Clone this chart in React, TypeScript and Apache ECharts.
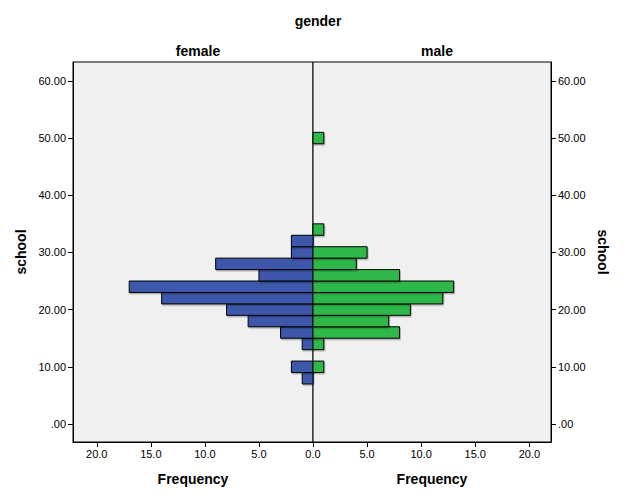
import React, { useEffect, useRef } from 'react';
import * as echarts from 'echarts';

// school bin centres (bin width 2) and frequencies per gender
const femaleSchool = [8, 10, 14, 16, 18, 20, 22, 24, 26, 28, 30, 32];
const femaleFreq = [1, 2, 1, 3, 6, 8, 14, 17, 5, 9, 2, 2];
const maleSchool = [10, 14, 16, 18, 20, 22, 24, 26, 28, 30, 34, 50];
const maleFreq = [1, 1, 8, 7, 9, 12, 13, 8, 4, 5, 1, 1];

const schoolTicks = [0, 10, 20, 30, 40, 50, 60];
const binWidth = 2;

const FONT = "'Liberation Sans', Arial, sans-serif";

const App: React.FC = () => {
  const chartRef = useRef<HTMLDivElement>(null);

  useEffect(() => {
    if (!chartRef.current) return;
    const chart = echarts.init(chartRef.current, undefined, { renderer: 'svg' });

    const barItem = (fill: string) => (params: any, api: any) => {
      const n = api.value(0);
      const y = api.value(1);
      const a = api.coord([0, y + binWidth / 2]);
      const b = api.coord([n, y - binWidth / 2]);
      return {
        type: 'rect',
        shape: {
          x: Math.min(a[0], b[0]),
          y: a[1],
          width: Math.abs(b[0] - a[0]),
          height: b[1] - a[1],
        },
        style: {
          fill,
          stroke: '#000',
          lineWidth: 1,
          shadowColor: 'rgba(0,0,0,0.25)',
          shadowOffsetX: 1,
          shadowOffsetY: 1.5,
          shadowBlur: 1,
        },
      };
    };

    const xCommon = {
      type: 'value' as const,
      interval: 5,
      axisLine: { show: true, onZero: false, lineStyle: { color: '#000' } },
      axisTick: { show: true, length: 5, lineStyle: { color: '#000' } },
      axisLabel: {
        color: '#000',
        fontSize: 11,
        fontFamily: FONT,
        margin: 6,
        showMaxLabel: false,
        formatter: (v: number) => v.toFixed(1),
      },
      splitLine: { show: false },
      name: 'Frequency',
      nameLocation: 'middle' as const,
      nameGap: 30,
      nameTextStyle: { color: '#000', fontSize: 14, fontWeight: 'bold' as const, fontFamily: FONT },
    };

    const yCommon = {
      type: 'value' as const,
      min: -3.15,
      max: 63.3,
      axisLine: { show: true, onZero: false, lineStyle: { color: '#000' } },
      axisTick: { show: true, length: 5, customValues: schoolTicks, lineStyle: { color: '#000' } },
      axisLabel: {
        color: '#000',
        fontSize: 11,
        fontFamily: FONT,
        margin: 7,
        customValues: schoolTicks,
        formatter: (v: number) => (v === 0 ? '.00' : v.toFixed(2)),
      },
      splitLine: { show: false },
      name: 'school',
      nameLocation: 'middle' as const,
      nameGap: 45,
      nameTextStyle: { color: '#000', fontSize: 14, fontWeight: 'bold' as const, fontFamily: FONT },
    };

    const option: any = {
      animation: false,
      backgroundColor: '#fff',
      textStyle: { fontFamily: FONT },
      title: [
        { text: 'gender', left: 313, top: 9, textAlign: 'center',
          textStyle: { fontSize: 14, fontWeight: 'bold', color: '#000', fontFamily: FONT } },
        { text: 'female', left: 193, top: 39, textAlign: 'center',
          textStyle: { fontSize: 14, fontWeight: 'bold', color: '#000', fontFamily: FONT } },
        { text: 'male', left: 432, top: 39, textAlign: 'center',
          textStyle: { fontSize: 14, fontWeight: 'bold', color: '#000', fontFamily: FONT } },
      ],
      grid: [
        { left: 73, top: 62, width: 240, height: 380, show: true,
          backgroundColor: '#f0f0f0', borderColor: '#000', borderWidth: 1 },
        { left: 313, top: 62, width: 238, height: 380, show: true,
          backgroundColor: '#f0f0f0', borderColor: '#000', borderWidth: 1 },
      ],
      xAxis: [
        { ...xCommon, gridIndex: 0, inverse: true, min: 0, max: 22.2 },
        { ...xCommon, gridIndex: 1, min: 0, max: 22 },
      ],
      yAxis: [
        { ...yCommon, gridIndex: 0, position: 'left', nameRotate: 90 },
        { ...yCommon, gridIndex: 1, position: 'right', nameRotate: -90 },
      ],
      series: [
        {
          type: 'custom',
          name: 'female',
          xAxisIndex: 0,
          yAxisIndex: 0,
          renderItem: barItem('#3d59ab'),
          encode: { x: 0, y: 1 },
          data: femaleSchool.map((s, i) => [femaleFreq[i], s]),
        },
        {
          type: 'custom',
          name: 'male',
          xAxisIndex: 1,
          yAxisIndex: 1,
          renderItem: barItem('#2fb84a'),
          encode: { x: 0, y: 1 },
          data: maleSchool.map((s, i) => [maleFreq[i], s]),
        },
      ],
    };
    // the 0.0 label is shared by both halves: show it once
    option.xAxis[1].axisLabel = { ...xCommon.axisLabel, showMinLabel: false };

    chart.setOption(option);

    const handleResize = () => chart.resize();
    window.addEventListener('resize', handleResize);
    return () => {
      window.removeEventListener('resize', handleResize);
      chart.dispose();
    };
  }, []);

  return (
    <div
      ref={chartRef}
      style={{ position: 'absolute', left: 0, top: 0, width: 626, height: 501 }}
    />
  );
};

export default App;
